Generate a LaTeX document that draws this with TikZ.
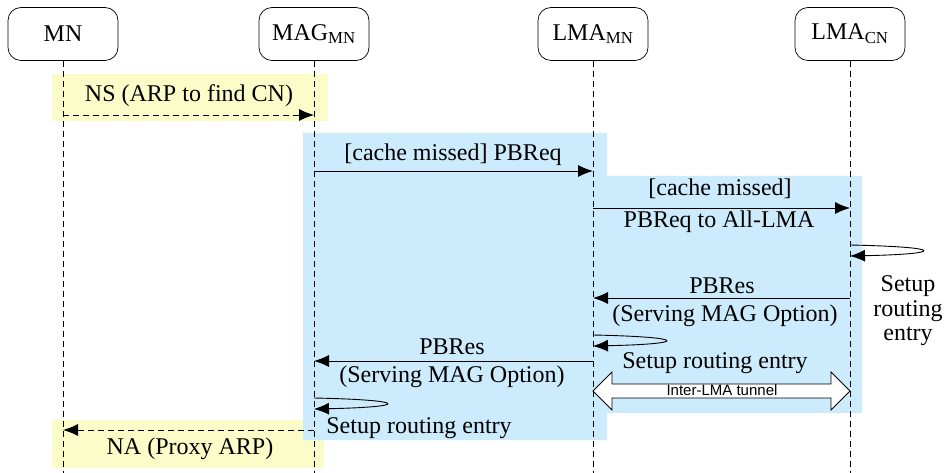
\documentclass[tikz,border=0pt]{standalone}
\usepackage{fontspec}
\setmainfont{Liberation Serif}
\newfontfamily\tunnelfont{Liberation Sans}
\usetikzlibrary{arrows.meta}

\definecolor{zoneblue}{RGB}{204,235,252}
\definecolor{zoneyellow}{RGB}{252,252,200}

\tikzset{
  actor/.style={draw, line width=0.7pt, rounded corners=13pt, minimum width=110pt,
                minimum height=53pt, inner sep=0pt, font=\fontsize{24}{26}\selectfont},
  life/.style={line width=0.6pt, dash pattern=on 6pt off 4pt},
  msg/.style={line width=0.9pt, -{Latex[length=15pt,width=12pt]}},
  dmsg/.style={msg, dash pattern=on 6pt off 4pt},
  lbl/.style={inner sep=0pt, font=\fontsize{24}{26}\selectfont},
  stack/.style={lbl, align=center, font=\fontsize{24}{24.5}\selectfont},
  tunnel/.style={draw, line width=0.8pt, fill=white},
}

\begin{document}
\begin{tikzpicture}[x=1pt,y=-1pt]
\useasboundingbox (0,0) rectangle (944,473);

% shaded zones
\fill[zoneyellow] (52,74) rectangle (328,121);
\fill[zoneyellow] (52,420) rectangle (324,468);
\fill[zoneblue] (303,133) -- (607,133) -- (607,176) -- (862,176) -- (862,413)
  -- (607,413) -- (607,440) -- (303,440) -- cycle;

% participants
\node[actor] (mn)   at (63,34)  {MN};
\node[actor] (mag)  at (314,34) {MAG\textsubscript{MN}};
\node[actor] (lmam) at (593,34) {LMA\textsubscript{MN}};
\node[actor] (lmac) at (850,34) {LMA\textsubscript{CN}};

% lifeline ends
\coordinate (mnE)   at (63,473);
\coordinate (magE)  at (314,473);
\coordinate (lmamE) at (593,473);
\coordinate (lmacE) at (850,473);
\draw[life] (mn.south) -- (mnE);
\draw[life] (mag.south) -- (magE);
\draw[life] (lmam.south) -- (lmamE);
\draw[life] (lmac.south) -- (lmacE);

% message anchor points on the lifelines
\coordinate (ns1) at (63,115);   \coordinate (ns2) at (314,115);
\coordinate (q1a) at (314,171);  \coordinate (q1b) at (593,171);
\coordinate (q2a) at (593,208);  \coordinate (q2b) at (850,208);
\coordinate (lc1) at (850,245);  \coordinate (lc2) at (850,256);
\coordinate (r1a) at (850,298);  \coordinate (r1b) at (593,298);
\coordinate (lm1) at (593,335);  \coordinate (lm2) at (593,346);
\coordinate (r2a) at (593,361);  \coordinate (r2b) at (314,361);
\coordinate (mg1) at (314,398);  \coordinate (mg2) at (314,409);
\coordinate (na1) at (314,430);  \coordinate (na2) at (63,430);

% messages
\draw[dmsg] (ns1) -- (ns2);
\draw[msg] (q1a) -- (q1b);
\draw[msg] (q2a) -- (q2b);
\draw[msg] (lc1) .. controls +(96,2) and +(96,-2) .. (lc2);
\draw[msg] (r1a) -- (r1b);
\draw[msg] (lm1) .. controls +(96,2) and +(96,-2) .. (lm2);
\draw[msg] (r2a) -- (r2b);
\draw[msg] (mg1) .. controls +(96,2) and +(96,-2) .. (mg2);
\draw[dmsg] (na1) -- (na2);

% inter-LMA tunnel
\draw[tunnel] (593,391) -- (612,372) -- (612,384) -- (831,384) -- (831,372)
  -- (850,391) -- (831,410) -- (831,398) -- (612,398) -- (612,410) -- cycle;
\node[inner sep=0pt, font=\tunnelfont\fontsize{15}{16}\selectfont] (tun) at (722,390) {Inter-LMA tunnel};

% labels
\node[lbl] (t-ns)  at (189,96)  {NS (ARP to find CN)};
\node[lbl] (t-q1)  at (453,155) {[cache missed] PBReq};
\node[lbl] (t-q2a) at (720,189) {[cache missed]};
\node[lbl] (t-q2b) at (719,222) {PBReq to All-LMA};
\node[stack] (t-lc) at (908,311) {Setup\\routing\\entry};
\node[lbl] (t-r1a) at (722,286) {PBRes};
\node[lbl] (t-r1b) at (725,316) {(Serving MAG Option)};
\node[lbl] (t-lm)  at (715,363) {Setup routing entry};
\node[lbl] (t-r2a) at (452,347) {PBRes};
\node[lbl] (t-r2b) at (452,377) {(Serving MAG Option)};
\node[lbl] (t-mg)  at (419,428) {Setup routing entry};
\node[lbl] (t-na)  at (190,449) {NA (Proxy ARP)};
\end{tikzpicture}
\end{document}
